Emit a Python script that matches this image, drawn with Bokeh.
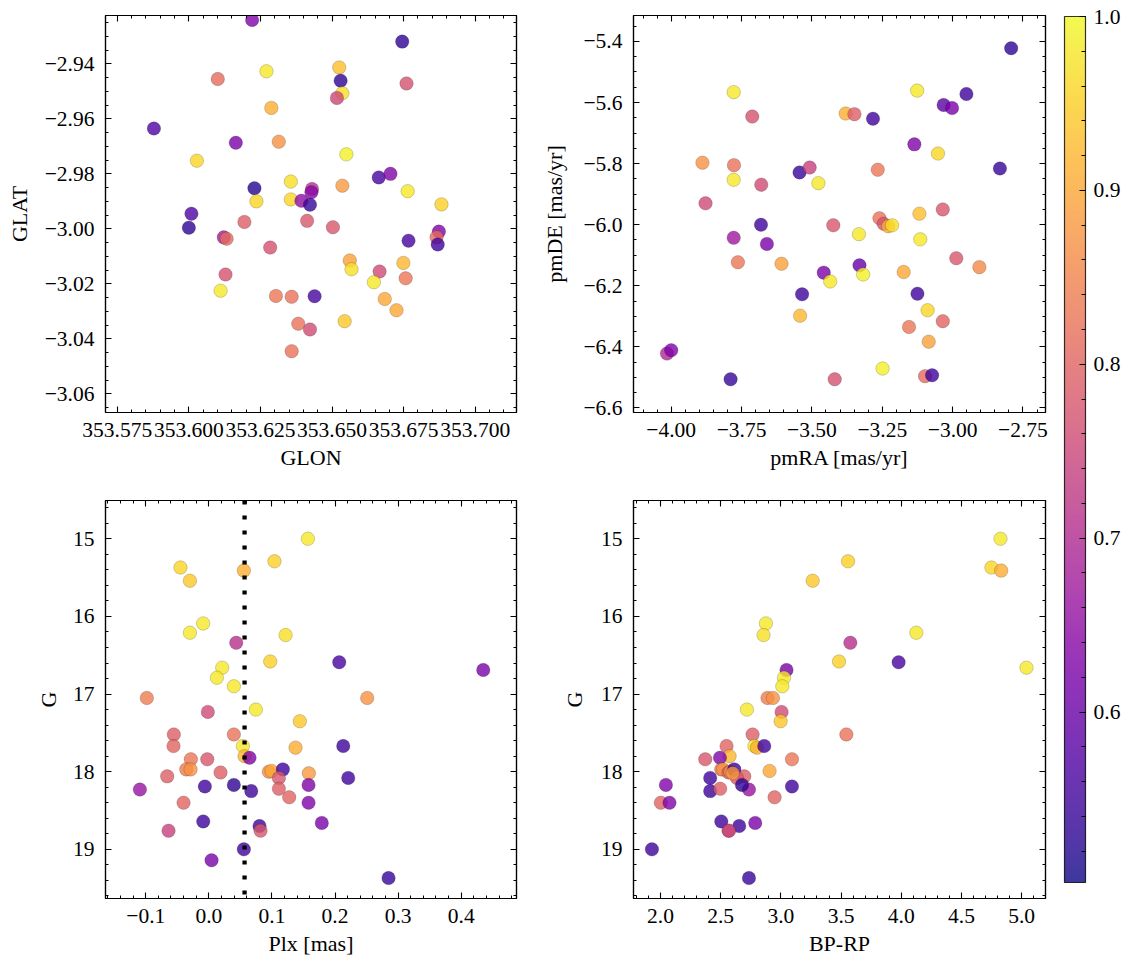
import numpy as np
from bokeh.plotting import figure
from bokeh.models import (ColumnDataSource, Range1d, LinearAxis, SingleIntervalTicker,
                          CustomJSTickFormatter, LinearColorMapper, ColorBar, Span,
                          PrintfTickFormatter)
from bokeh.layouts import row, column
from bokeh.palettes import Plasma256
from bokeh.transform import transform
from bokeh.embed import file_html
from bokeh.resources import INLINE

# ---------------- data ----------------
# Panel 1: sky positions
glon = [353.6221, 353.6745, 353.6101, 353.6271, 353.6525, 353.6530, 353.6536, 353.6517,
        353.6760, 353.6288, 353.5878, 353.6164, 353.6314, 353.6028, 353.6550, 353.6663,
        353.6704, 353.6229, 353.6356, 353.6430, 353.6428, 353.6536, 353.6764, 353.6882,
        353.6236, 353.6356, 353.6393, 353.6423, 353.6009, 353.6000, 353.6194, 353.6413,
        353.6503, 353.6122, 353.6132, 353.6284, 353.6767, 353.6873, 353.6865, 353.6869,
        353.6562, 353.6568, 353.6749, 353.6666, 353.6646, 353.6757, 353.6128, 353.6111,
        353.6304, 353.6359, 353.6439, 353.6684, 353.6725, 353.6544, 353.6382, 353.6423,
        353.6359]
glat = [-2.9240, -2.9319, -2.9455, -2.9427, -2.9413, -2.9461, -2.9507, -2.9524,
        -2.9471, -2.9560, -2.9635, -2.9687, -2.9683, -2.9752, -2.9729, -2.9813,
        -2.9800, -2.9852, -2.9828, -2.9855, -2.9867, -2.9843, -2.9863, -2.9911,
        -2.9900, -2.9893, -2.9898, -2.9912, -2.9945, -2.9996, -2.9975, -2.9971,
        -2.9994, -3.0031, -3.0036, -3.0068, -3.0043, -3.0010, -3.0031, -3.0057,
        -3.0115, -3.0147, -3.0124, -3.0155, -3.0194, -3.0180, -3.0166, -3.0225,
        -3.0244, -3.0247, -3.0245, -3.0255, -3.0296, -3.0336, -3.0345, -3.0366,
        -3.0445]
prob_sky = [0.63, 0.53, 0.81, 0.98, 0.93, 0.53, 0.97, 0.75,
            0.77, 0.91, 0.57, 0.62, 0.87, 0.96, 0.99, 0.56,
            0.63, 0.52, 0.97, 0.71, 0.64, 0.88, 0.98, 0.95,
            0.96, 0.96, 0.65, 0.54, 0.57, 0.53, 0.79, 0.78,
            0.78, 0.68, 0.81, 0.77, 0.56, 0.63, 0.81, 0.55,
            0.89, 0.97, 0.92, 0.76, 0.98, 0.83, 0.77, 0.98,
            0.83, 0.82, 0.56, 0.90, 0.90, 0.94, 0.82, 0.76,
            0.82]

# Panel 2: proper motions
pmra = [-2.792, -3.778, -3.126, -2.951, -3.032, -3.002, -3.712, -3.380,
        -3.349, -3.283, -3.136, -3.052, -2.832, -3.889, -3.777, -3.778,
        -3.680, -3.544, -3.508, -3.477, -3.266, -3.878, -3.118, -3.035,
        -3.681, -3.778, -3.660, -3.763, -3.608, -3.424, -3.333, -3.260,
        -3.245, -3.229, -3.215, -3.115, -2.987, -2.905, -3.174, -3.458,
        -3.435, -3.331, -3.318, -3.535, -3.125, -3.089, -3.542, -3.035,
        -3.155, -3.085, -4.015, -4.000, -3.789, -3.419, -3.249, -3.098,
        -3.073]
pmde = [-5.422, -5.566, -5.561, -5.572, -5.608, -5.618, -5.646, -5.636,
        -5.638, -5.653, -5.737, -5.767, -5.816, -5.797, -5.805, -5.853,
        -5.869, -5.829, -5.813, -5.864, -5.820, -5.930, -5.964, -5.950,
        -6.000, -6.043, -6.063, -6.123, -6.128, -6.002, -6.031, -5.979,
        -5.997, -6.005, -6.002, -6.048, -6.110, -6.139, -6.155, -6.157,
        -6.186, -6.133, -6.163, -6.228, -6.226, -6.280, -6.298, -6.316,
        -6.335, -6.383, -6.422, -6.411, -6.506, -6.506, -6.471, -6.496,
        -6.493]
prob_pm = [0.53, 0.98, 0.98, 0.55, 0.58, 0.62, 0.77, 0.91,
           0.79, 0.55, 0.63, 0.96, 0.54, 0.87, 0.82, 0.98,
           0.76, 0.54, 0.74, 0.98, 0.83, 0.76, 0.93, 0.78,
           0.55, 0.67, 0.62, 0.83, 0.89, 0.78, 0.98, 0.82,
           0.77, 0.90, 0.97, 0.98, 0.78, 0.86, 0.90, 0.62,
           0.98, 0.60, 0.99, 0.55, 0.55, 0.96, 0.92, 0.80,
           0.83, 0.89, 0.70, 0.63, 0.54, 0.77, 0.99, 0.81,
           0.55]

# Panels 3 & 4: parallax / photometry (same stars)
plx = [0.157, -0.045, -0.030, 0.0555, 0.104, -0.009, -0.030, 0.1216,
       0.0434, 0.0973, 0.2066, 0.4349, 0.0212, 0.0127, 0.0396, -0.0983,
       0.251, 0.0745, -0.0016, 0.1442, -0.0555, 0.0396, -0.056, 0.0539,
       0.1374, 0.213, 0.0566, 0.0645, -0.0285, -0.0025, -0.0358, -0.029,
       0.0185, -0.066, 0.0951, 0.0994, 0.1173, 0.111, 0.1585, 0.2209,
       -0.1093, -0.0063, 0.0396, 0.0672, 0.111, 0.158, 0.1274, -0.0401,
       0.158, -0.0089, 0.179, 0.0803, 0.0819, -0.0639, 0.0555, 0.0043,
       0.2848]
gmag = [15.00, 15.37, 15.54, 15.41, 15.29, 16.09, 16.21, 16.24,
        16.34, 16.58, 16.59, 16.69, 16.66, 16.79, 16.90, 17.05,
        17.05, 17.20, 17.23, 17.35, 17.52, 17.52, 17.67, 17.67,
        17.69, 17.67, 17.80, 17.82, 17.84, 17.84, 17.97, 17.97,
        18.01, 18.06, 18.00, 17.99, 17.97, 18.08, 18.02, 18.08,
        18.23, 18.19, 18.17, 18.25, 18.22, 18.17, 18.33, 18.40,
        18.40, 18.64, 18.66, 18.70, 18.76, 18.76, 19.00, 19.14,
        19.37]
bprp = [4.824, 4.749, 3.264, 4.830, 3.558, 2.876, 4.125, 2.856,
        3.577, 3.483, 3.978, 3.047, 5.040, 3.026, 3.012, 2.889,
        2.934, 2.718, 3.006, 2.998, 2.765, 3.544, 2.549, 2.780,
        2.801, 2.862, 2.574, 2.494, 3.092, 2.372, 2.505, 2.520,
        2.565, 2.696, 2.580, 2.906, 2.613, 2.635, 2.600, 2.413,
        2.735, 3.092, 2.677, 2.413, 2.496, 2.045, 2.948, 2.003,
        2.075, 2.505, 2.787, 2.654, 2.565, 2.570, 1.929, float("nan"),
        2.735]
prob_phot = [0.98, 0.96, 0.94, 0.91, 0.95, 0.98, 0.98, 0.97,
             0.71, 0.95, 0.56, 0.62, 0.98, 0.98, 0.98, 0.84,
             0.87, 0.98, 0.76, 0.94, 0.79, 0.82, 0.80, 0.98,
             0.91, 0.55, 0.92, 0.63, 0.83, 0.78, 0.84, 0.87,
             0.79, 0.79, 0.86, 0.90, 0.55, 0.78, 0.88, 0.55,
             0.66, 0.55, 0.53, 0.55, 0.79, 0.63, 0.80, 0.80,
             0.63, 0.55, 0.62, 0.55, 0.78, 0.74, 0.55, 0.62,
             0.54]

plx_mean = 0.0566
prob_low, prob_high = 0.502, 1.0

# ---------------- styling ----------------
FONT = "Liberation Serif"
TICK_FS = "21.5px"
LABEL_FS = "22px"
mapper = LinearColorMapper(palette=Plasma256, low=prob_low, high=prob_high)


def fmt(n):
    return CustomJSTickFormatter(code=f"""
        const v = Math.abs(tick) < 1e-9 ? 0 : tick;
        const s = Math.abs(v).toFixed({n});
        return v < 0 ? "\\u2212" + s : s;
    """)


def style_axis(ax, show_labels):
    ax.axis_line_color = "black"
    ax.axis_line_width = 1.2
    ax.major_tick_line_color = "black"
    ax.minor_tick_line_color = "black"
    ax.major_tick_line_width = 1.1
    ax.minor_tick_line_width = 1.0
    ax.major_tick_in = 6
    ax.major_tick_out = 0
    ax.minor_tick_in = 3
    ax.minor_tick_out = 0
    ax.major_label_text_font = FONT
    ax.axis_label_text_font = FONT
    ax.axis_label_text_font_size = LABEL_FS
    ax.axis_label_text_font_style = "normal"
    ax.axis_label_text_color = "black"
    if show_labels:
        ax.major_label_text_font_size = TICK_FS
        ax.major_label_text_color = "black"
    else:
        # mirrored tick marks only: labels are not painted
        ax.major_label_text_color = None
        ax.major_label_text_font_size = "1px"
        ax.major_label_standoff = 0


def make_panel(xr, yr, fw, fh, mbl, mbr, mbt, mbb, xtick, ytick, xdec, ydec,
               xlabel, ylabel, ystand):
    p = figure(x_range=xr, y_range=yr, frame_width=fw, frame_height=fh,
               min_border_left=mbl, min_border_right=mbr, min_border_top=mbt,
               min_border_bottom=mbb, toolbar_location=None, output_backend="svg",
               x_axis_location=None, y_axis_location=None)
    p.xgrid.visible = False
    p.ygrid.visible = False
    p.outline_line_color = "black"
    p.outline_line_width = 1.2
    p.background_fill_color = "white"
    p.border_fill_color = "white"
    for loc in ("below", "above"):
        ax = LinearAxis(ticker=SingleIntervalTicker(interval=xtick[0], num_minor_ticks=xtick[1]),
                        formatter=fmt(xdec))
        style_axis(ax, loc == "below")
        if loc == "below":
            ax.axis_label = xlabel
            ax.major_label_standoff = 10
            ax.axis_label_standoff = 5
        p.add_layout(ax, loc)
    for loc in ("left", "right"):
        ax = LinearAxis(ticker=SingleIntervalTicker(interval=ytick[0], num_minor_ticks=ytick[1]),
                        formatter=fmt(ydec))
        style_axis(ax, loc == "left")
        if loc == "left":
            ax.axis_label = ylabel
            ax.major_label_standoff = 11
            ax.axis_label_standoff = ystand
        p.add_layout(ax, loc)
    return p


def add_points(p, x, y, prob):
    src = ColumnDataSource(dict(x=np.array(x, dtype=float), y=np.array(y, dtype=float),
                                prob=np.array(prob, dtype=float)))
    p.scatter("x", "y", source=src, size=13.5,
              fill_color=transform("prob", mapper), fill_alpha=0.8,
              line_color="black", line_alpha=0.35, line_width=0.5)


# top-left: sky
p1 = make_panel(Range1d(353.5709, 353.7144), Range1d(-3.0668, -2.9224),
                411, 397, 105, 20, 15, 66, (0.025, 5), (0.02, 4), 3, 2,
                "GLON", "GLAT", 10)
add_points(p1, glon, glat, prob_sky)

# top-right: proper motions
p2 = make_panel(Range1d(-4.134, -2.670), Range1d(-6.615, -5.315),
                412, 397, 97, 10, 15, 66, (0.25, 5), (0.2, 4), 2, 1,
                "pmRA [mas/yr]", "pmDE [mas/yr]", 13)
add_points(p2, pmra, pmde, prob_pm)

# bottom-left: parallax vs G
p3 = make_panel(Range1d(-0.1638, 0.4876), Range1d(19.633, 14.507),
                411, 398, 105, 20, 22, 66, (0.1, 5), (1, 5), 1, 0,
                "Plx [mas]", "G", 9)
add_points(p3, plx, gmag, prob_phot)
p3.add_layout(Span(location=plx_mean, dimension="height", line_color="black",
                   line_width=4.3, line_dash="4 11"))

# bottom-right: colour-magnitude
p4 = make_panel(Range1d(1.776, 5.198), Range1d(19.633, 14.507),
                412, 398, 97, 10, 22, 66, (0.5, 5), (1, 5), 1, 0,
                "BP-RP", "G", 11)
add_points(p4, bprp, gmag, prob_phot)

# colour bar
cb = figure(width=68, height=964, x_range=Range1d(0, 1), y_range=Range1d(0, 1),
            min_border_left=9, min_border_top=16, min_border_right=0, min_border_bottom=0,
            x_axis_location=None, y_axis_location=None, toolbar_location=None,
            output_backend="svg")
cb.outline_line_color = None
cb.xgrid.visible = False
cb.ygrid.visible = False
cbar = ColorBar(color_mapper=mapper, location="top_left", width=21, height=866,
                margin=0, padding=0, scale_alpha=0.8,
                ticker=SingleIntervalTicker(interval=0.1, num_minor_ticks=5),
                formatter=PrintfTickFormatter(format="%.1f"),
                major_label_text_font=FONT, major_label_text_font_size=TICK_FS,
                major_label_text_color="black", label_standoff=8,
                major_tick_line_color="black", major_tick_in=6, major_tick_out=0,
                minor_tick_line_color="black", minor_tick_in=4, minor_tick_out=0,
                bar_line_color="black", bar_line_width=1.2,
                border_line_color=None, background_fill_color=None)
cb.add_layout(cbar, "center")

layout = row(column(row(p1, p2), row(p3, p4)), cb)

with open("out.html", "w", encoding="utf-8") as f:
    f.write(file_html(layout, INLINE))
